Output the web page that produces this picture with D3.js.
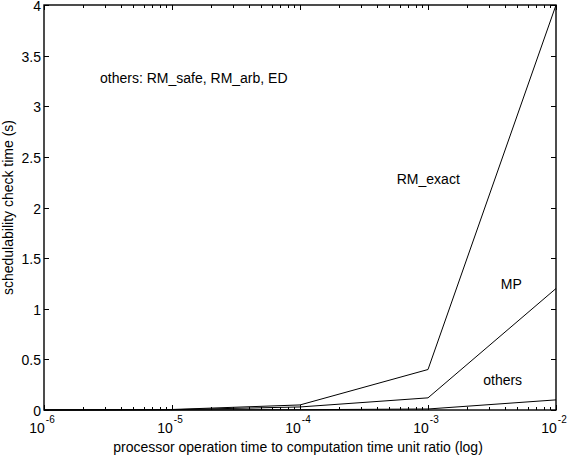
<html>
<head>
<script src="https://cdnjs.cloudflare.com/ajax/libs/d3/7.8.5/d3.min.js"></script>
<style>
body { margin: 0; background: white; }
text { font-family: "Liberation Sans", Arial, sans-serif; fill: black; }
</style>
</head>
<body>
<svg id="chart" width="567" height="458"></svg>
<script>
var ratios = [1e-6, 1e-5, 1e-4, 1e-3, 1e-2];
var rmExact = [0.0, 0.005, 0.05, 0.40, 4.0];
var mp = [0.0, 0.003, 0.03, 0.12, 1.2];
var others = [0.0, 0.0005, 0.003, 0.01, 0.1];
var yTicks = [0, 0.5, 1, 1.5, 2, 2.5, 3, 3.5, 4];
var xMajor = [1e-6, 1e-5, 1e-4, 1e-3, 1e-2];

var svg = d3.select('#chart');
var pLeft = 44, pRight = 556, pTop = 5, pBottom = 410;

var x = d3.scaleLog().domain([1e-6, 1e-2]).range([pLeft, pRight]);
var y = d3.scaleLinear().domain([0, 4]).range([pBottom, pTop]);

// minor ticks
var minor = [];
xMajor.slice(0, -1).forEach(function(d) {
  for (var k = 2; k <= 9; k++) minor.push(d * k);
});

var g = svg.append('g').attr('stroke', 'black').attr('stroke-width', 1);

function tickX(list, len) {
  list.forEach(function(d) {
    var px = Math.round(x(d)) + 0.5;
    g.append('line').attr('x1', px).attr('x2', px).attr('y1', pBottom).attr('y2', pBottom - len);
    g.append('line').attr('x1', px).attr('x2', px).attr('y1', pTop).attr('y2', pTop + len);
  });
}
tickX(minor, 3);
tickX(xMajor, 5);

yTicks.forEach(function(d) {
  var py = Math.round(y(d)) + 0.5;
  g.append('line').attr('x1', pLeft).attr('x2', pLeft + 5).attr('y1', py).attr('y2', py);
  g.append('line').attr('x1', pRight).attr('x2', pRight - 5).attr('y1', py).attr('y2', py);
});

svg.append('rect').attr('x', pLeft).attr('y', pTop)
  .attr('width', pRight - pLeft).attr('height', pBottom - pTop)
  .attr('fill', 'none').attr('stroke', 'black').attr('stroke-width', 1.4);

// y tick labels
yTicks.forEach(function(d) {
  svg.append('text').attr('x', pLeft - 3).attr('y', y(d) + 6)
    .attr('text-anchor', 'end').style('font-size', '14px').text(d);
});

// x tick labels
xMajor.forEach(function(d) {
  var t = svg.append('text').attr('x', x(d) - 2).attr('y', pBottom + 23)
    .attr('text-anchor', 'middle').style('font-size', '14px');
  t.append('tspan').text('10');
  t.append('tspan').attr('dy', -10).attr('dx', 1).style('font-size', '10px')
    .text(String(Math.round(Math.log10(d))));
});

// lines
var line = d3.line().x(function(d) { return x(d[0]); }).y(function(d) { return y(d[1]); });
[rmExact, mp, others].forEach(function(series) {
  svg.append('path')
    .datum(ratios.map(function(r, i) { return [r, series[i]]; }))
    .attr('d', line).attr('fill', 'none').attr('stroke', 'black').attr('stroke-width', 1);
});

// annotations
var notes = [
  ['others: RM_safe, RM_arb, ED', 2.74e-6, 3.23],
  ['RM_exact', 5.7e-4, 2.23],
  ['MP', 3.7e-3, 1.195],
  ['others', 2.7e-3, 0.247]
];
notes.forEach(function(n) {
  svg.append('text').attr('x', x(n[1])).attr('y', y(n[2]))
    .style('font-size', '14px').text(n[0]);
});

svg.append('text').attr('x', 298).attr('y', 452)
  .attr('text-anchor', 'middle').style('font-size', '14px')
  .text('processor operation time to computation time unit ratio (log)');

svg.append('text')
  .attr('transform', 'translate(13,' + ((pTop + pBottom) / 2) + ') rotate(-90)')
  .attr('text-anchor', 'middle').style('font-size', '14px')
  .text('schedulability check time (s)');
</script>
</body>
</html>
